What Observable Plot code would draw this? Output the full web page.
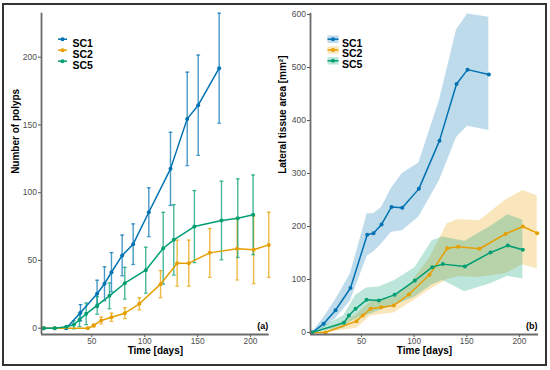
<!DOCTYPE html>
<html>
<head>
<meta charset="utf-8">
<script src="https://cdn.jsdelivr.net/npm/d3@7"></script>
<script src="https://cdn.jsdelivr.net/npm/@observablehq/plot@0.6"></script>
<style>
  html, body { margin: 0; padding: 0; background: #fff; }
  #wrap { position: relative; width: 550px; height: 370px; background: #fff; overflow: hidden; }
  #left, #right { position: absolute; top: 0; }
  #left { left: 0; }
  #right { left: 275px; }
  #border { position: absolute; left: 2px; top: 3px; width: 541px; height: 359px; border: 2px solid #333; pointer-events: none; }
</style>
</head>
<body>
<div id="wrap">
  <div id="left"></div>
  <div id="right"></div>
  <div id="border"></div>
</div>
<script>
// ---------- data: panel (a) number of polyps (mean ± error) ----------
const seriesNames = ["SC1", "SC2", "SC5"];
const seriesColors = ["#0072B2", "#E69F00", "#009E73"];

const sc1Days   = [4.6, 15, 25.8, 39.3, 55, 62, 68.6, 78.7, 89.1, 103.9, 124.4, 140.2, 150.6, 170.4];
const sc1Polyps = [0, 0, 0, 11.4, 25.4, 32.8, 41.3, 53.7, 62, 85.6, 117.6, 154.5, 164.6, 191.9];
const sc1Err    = [0, 0, 0.5, 6, 10, 12.5, 14.5, 15, 15, 18, 27, 34.5, 37, 40.6];

const sc2Days   = [4.6, 15, 46.2, 51.9, 58.9, 68.6, 81.2, 95, 115, 130.7, 141.7, 161.5, 187.4, 203, 217.3];
const sc2Polyps = [0, 0, 0, 2, 5.7, 8.1, 11.1, 18, 32.5, 48, 48, 55.6, 58.6, 57.9, 61.5];
const sc2Err    = [0, 0, 0.3, 1, 2.5, 3, 4, 4.5, 10, 17, 17, 18, 23, 25, 24];

const sc5Days   = [4.6, 15, 26, 33, 38.4, 44.7, 55.1, 66.7, 81.2, 101, 117.5, 127.5, 147, 172.6, 188, 202.5];
const sc5Polyps = [0, 0, 1, 2.5, 6.2, 10.6, 16.8, 23.9, 33.2, 42.8, 59, 65.2, 75, 79.5, 81.2, 83.7];
const sc5Err    = [0, 0, 0.5, 3, 5, 8, 6.5, 9.5, 11.7, 17, 26.5, 26, 26.6, 29, 29, 29.4];

// ---------- data: panel (b) lateral tissue area (mean with band) ----------
const sc1AreaDays = [3.1, 14, 25.3, 39.5, 55.4, 61.4, 69, 78.5, 88.7, 104.5, 124.1, 140.3, 150.8, 171];
const sc1Area     = [0, 16.7, 42, 84, 184.5, 187.4, 203.8, 237, 235.3, 271, 362, 469, 496, 487];
const sc1AreaLo   = [0, 8, 26, 60, 144, 152, 167, 189, 192, 218, 287, 368, 389, 381];
const sc1AreaHi   = [0, 28, 62, 111, 224, 224, 236, 272, 300, 320, 438, 571, 601, 595];

const sc2AreaDays = [3.1, 15.8, 45.2, 51.2, 58.6, 68.7, 80.7, 95, 114.6, 131.5, 141.9, 162.2, 186.9, 203.3, 217];
const sc2Area     = [0, 0, 21.4, 32, 44.7, 47.8, 51, 71.7, 108.8, 159, 162, 158, 186, 200, 187.4];
const sc2AreaLo   = [0, 0, 8, 18, 31, 34, 37, 54, 80, 100, 105, 104, 111, 128, 120];
const sc2AreaHi   = [0, 3, 33, 45, 58, 62, 66, 88, 140, 205, 213, 211, 250, 268, 258];

const sc5AreaDays = [3.1, 33.2, 38, 44.3, 54.8, 66.5, 81.4, 100.7, 117.2, 127.3, 148.2, 172.6, 189, 203.3];
const sc5Area     = [0, 18.3, 32, 44.7, 61.6, 60.4, 71, 98, 123.3, 129, 124.5, 151, 164, 156];
const sc5AreaLo   = [0, 8, 18, 25, 32, 41, 51, 67, 90, 98, 77, 92, 106, 101];
const sc5AreaHi   = [0, 32, 48, 70, 84, 86, 98, 122, 173, 180, 172, 200, 222, 212];

// ---------- axes ----------
const dayTicks = [50, 100, 150, 200];
const polypTicks = [0, 50, 100, 150, 200];
const areaTicks = [0, 100, 200, 300, 400, 500, 600];
const dayDomainA = [2.46, 217.7];
const polypDomain = [-4.65, 232.5];
const dayDomainB = [1.5, 218.2];
const areaDomain = [-3.8, 602.5];

// ---------- tables ----------
const polypTables = [
  [sc1Days, sc1Polyps, sc1Err],
  [sc2Days, sc2Polyps, sc2Err],
  [sc5Days, sc5Polyps, sc5Err]
].map(([days, vals, errs], s) => days.map((d, i) => ({
  series: seriesNames[s], day: d, value: vals[i], err: errs[i], lo: vals[i] - errs[i], hi: vals[i] + errs[i]
})));

const areaTables = [
  [sc1AreaDays, sc1Area, sc1AreaLo, sc1AreaHi],
  [sc2AreaDays, sc2Area, sc2AreaLo, sc2AreaHi],
  [sc5AreaDays, sc5Area, sc5AreaLo, sc5AreaHi]
].map(([days, vals, lo, hi], s) => days.map((d, i) => ({
  series: seriesNames[s], day: d, value: vals[i], lo: lo[i], hi: hi[i]
})));

// custom symbols
const hline = { draw(ctx, size) { const w = Math.sqrt(size / Math.PI); ctx.moveTo(-w, 0); ctx.lineTo(w, 0); } };
const keyRect = { draw(ctx, size) { const w = Math.sqrt(size / Math.PI); ctx.rect(-w, -w * 0.68, 2 * w, 1.36 * w); } };

const FONT = "'Liberation Sans', Arial, Helvetica, sans-serif";
const axisLine = "#6a6a6a";
const tickCol = "#555";
const labelCol = "#4d4d4d";

function axes(xTicks, yTicks, xDom, yDom) {
  return [
    Plot.axisY({ticks: yTicks, tickSize: 3, tickPadding: 1.5, stroke: tickCol, fill: labelCol, fontSize: 8.5, label: null}),
    Plot.axisX({ticks: xTicks, tickSize: 3, tickPadding: 0.5, stroke: tickCol, fill: labelCol, fontSize: 8.3, label: null}),
    Plot.ruleX([xDom[0]], {stroke: axisLine, strokeWidth: 1.8}),
    Plot.ruleY([yDom[0]], {stroke: axisLine, strokeWidth: 1.8})
  ];
}

// ---------- panel (a) ----------
const marksA = [];
polypTables.forEach((rows, s) => {
  const c = seriesColors[s];
  const withErr = rows.filter(d => d.err > 0);
  marksA.push(Plot.ruleX(withErr, {x: "day", y1: "lo", y2: "hi", stroke: c, strokeOpacity: 0.72, strokeWidth: 1.4}));
  marksA.push(Plot.dot(withErr, {x: "day", y: "hi", symbol: hline, r: 1.9, stroke: c, strokeOpacity: 0.72, strokeWidth: 1.3, fill: "none"}));
  marksA.push(Plot.dot(withErr, {x: "day", y: "lo", symbol: hline, r: 1.9, stroke: c, strokeOpacity: 0.72, strokeWidth: 1.3, fill: "none"}));
});
polypTables.forEach((rows, s) => {
  const c = seriesColors[s];
  marksA.push(Plot.line(rows, {x: "day", y: "value", stroke: c, strokeWidth: 1.5}));
  marksA.push(Plot.dot(rows, {x: "day", y: "value", r: 2, fill: c}));
});
seriesNames.forEach((name, s) => {
  const c = seriesColors[s];
  const dy = 26 + 11 * s;
  marksA.push(Plot.dot([name], {frameAnchor: "top-left", dx: 21, dy, symbol: hline, r: 4.5, stroke: c, strokeWidth: 1.5, fill: "none"}));
  marksA.push(Plot.dot([name], {frameAnchor: "top-left", dx: 21, dy, r: 2, fill: c}));
  marksA.push(Plot.text([name], {frameAnchor: "top-left", dx: 31, dy, text: d => d, textAnchor: "start", fontWeight: "bold", fontSize: 10.5, fill: "#000"}));
});
marksA.push(...axes(dayTicks, polypTicks, dayDomainA, polypDomain));
marksA.push(Plot.text(["Time [days]"], {frameAnchor: "bottom", dy: 19.5, text: d => d, fontWeight: "bold", fontSize: 10, fill: "#000"}));
marksA.push(Plot.text(["Number of polyps"], {frameAnchor: "left", dx: -26, rotate: -90, text: d => d, fontWeight: "bold", fontSize: 10, fill: "#000"}));
marksA.push(Plot.text(["(a)"], {frameAnchor: "bottom-right", dx: -1, dy: -6, text: d => d, textAnchor: "end", fontWeight: "bold", fontSize: 9, fill: "#000"}));

const plotA = Plot.plot({
  width: 275, height: 370,
  marginLeft: 41, marginRight: 6.3, marginTop: 12.7, marginBottom: 36,
  x: {domain: dayDomainA, label: null},
  y: {domain: polypDomain, label: null},
  style: {fontFamily: FONT, fontSize: "8.5px", background: "transparent", overflow: "visible"},
  marks: marksA
});
document.getElementById("left").appendChild(plotA);

// ---------- panel (b) ----------
const marksB = [];
areaTables.forEach((rows, s) => {
  marksB.push(Plot.areaY(rows, {x: "day", y1: "lo", y2: "hi", fill: seriesColors[s], fillOpacity: 0.26}));
});
areaTables.forEach((rows, s) => {
  const c = seriesColors[s];
  marksB.push(Plot.line(rows, {x: "day", y: "value", stroke: c, strokeWidth: 1.5}));
  marksB.push(Plot.dot(rows, {x: "day", y: "value", r: 2, fill: c}));
});
seriesNames.forEach((name, s) => {
  const c = seriesColors[s];
  const dy = 26 + 10.8 * s;
  marksB.push(Plot.dot([name], {frameAnchor: "top-left", dx: 22.5, dy, symbol: keyRect, r: 5.5, fill: c, fillOpacity: 0.26, stroke: "none"}));
  marksB.push(Plot.dot([name], {frameAnchor: "top-left", dx: 22.5, dy, symbol: hline, r: 5.5, stroke: c, strokeWidth: 1.5, fill: "none"}));
  marksB.push(Plot.dot([name], {frameAnchor: "top-left", dx: 22.5, dy, r: 2, fill: c}));
  marksB.push(Plot.text([name], {frameAnchor: "top-left", dx: 31.5, dy, text: d => d, textAnchor: "start", fontWeight: "bold", fontSize: 10.5, fill: "#000"}));
});
marksB.push(...axes(dayTicks, areaTicks, dayDomainB, areaDomain));
marksB.push(Plot.text(["Time [days]"], {frameAnchor: "bottom", dy: 19.5, text: d => d, fontWeight: "bold", fontSize: 10, fill: "#000"}));
marksB.push(Plot.text(["Lateral tissue area [mm²]"], {frameAnchor: "left", dx: -28, rotate: -90, text: d => d, fontWeight: "bold", fontSize: 10, fill: "#000"}));
marksB.push(Plot.text(["(b)"], {frameAnchor: "bottom-right", dx: -1, dy: -6, text: d => d, textAnchor: "end", fontWeight: "bold", fontSize: 9, fill: "#000"}));

const plotB = Plot.plot({
  width: 275, height: 370,
  marginLeft: 35, marginRight: 12, marginTop: 12.7, marginBottom: 36,
  x: {domain: dayDomainB, label: null},
  y: {domain: areaDomain, label: null},
  style: {fontFamily: FONT, fontSize: "8.5px", background: "transparent", overflow: "visible"},
  marks: marksB
});
document.getElementById("right").appendChild(plotB);
</script>
</body>
</html>
